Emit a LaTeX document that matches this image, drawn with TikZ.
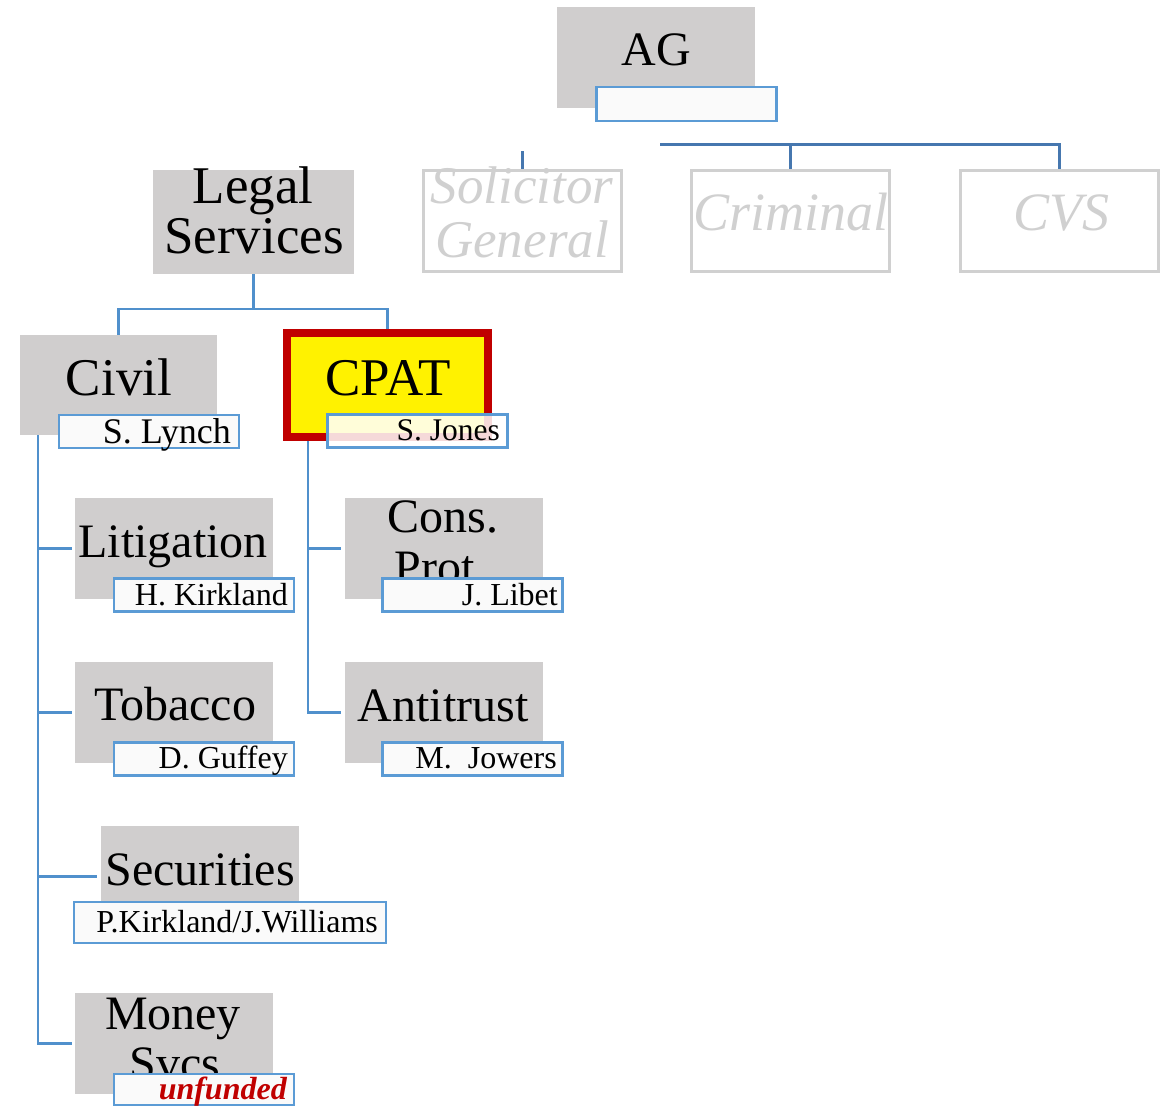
\documentclass[tikz,border=0pt]{standalone}
\usepackage{fontspec}
\setmainfont{Liberation Serif}
\definecolor{boxgray}{HTML}{D0CECE}
\definecolor{nameblue}{HTML}{5B9BD5}
\definecolor{topblue}{HTML}{4677AF}
\definecolor{connblue}{HTML}{5090CC}
\definecolor{ghost}{HTML}{D0D0D0}
\definecolor{namefill}{HTML}{FAFAFA}
\definecolor{cpatred}{HTML}{C00000}
\definecolor{fundred}{HTML}{C00000}
\newcommand\fsz[1]{\fontsize{#1}{#1}\selectfont}
\begin{document}
\begin{tikzpicture}[x=1pt,y=-1pt,
  graybox/.style={fill=boxgray, draw=none, inner sep=0pt, minimum width=198pt, minimum height=101pt},
  ghostbox/.style={draw=ghost, line width=3pt, fill=white, inner sep=0pt, minimum width=198pt, minimum height=101pt},
  namebox/.style={draw=nameblue, line width=2.5pt, fill=namefill, inner sep=0pt, minimum width=180pt, minimum height=33pt},
  txt/.style={inner sep=0pt, anchor=base},
  nametxt/.style={inner sep=0pt, anchor=base east, font=\fsz{32}},
  ghosttxt/.style={inner sep=0pt, anchor=base, text=ghost, font=\fsz{53}\itshape},
  conn/.style={draw=connblue, line width=2.5pt},
  topline/.style={draw=topblue, line width=3pt}]
\useasboundingbox (0,0) rectangle (1174,1107);

% ---- boxes
\node[graybox] (ag) at (656,57.5) {};
\node[graybox, minimum width=201pt, minimum height=104pt] (ls) at (253.5,222) {};
\node[ghostbox] (sol) at (522,221) {};
\node[ghostbox] (crim) at (790.5,221) {};
\node[ghostbox] (cvs) at (1059.5,221) {};
\node[graybox, minimum width=197pt, minimum height=100pt] (civ) at (118.5,385) {};
\node[fill=yellow, draw=cpatred, line width=8pt, inner sep=0pt, minimum width=201pt, minimum height=104pt] (cpat) at (387.5,385) {};
\node[graybox] (lit) at (174,548.5) {};
\node[graybox] (tob) at (174,712.5) {};
\node[graybox] (sec) at (199.5,876.5) {};
\node[graybox] (mon) at (174,1043.5) {};
\node[graybox] (cons) at (443.5,548.5) {};
\node[graybox] (anti) at (443.5,712.5) {};

% ---- connectors
\coordinate (agjoin) at (660,145);
\draw[topline] (agjoin) -| (crim.north);
\draw[topline] (agjoin) -| (cvs.north);
\draw[topline] (sol.north) -- ++(0,-18);
\draw[conn] (ls.south) -- ++(0,35) -| (civ.north);
\draw[conn] (ls.south) -- ++(0,35) -| (cpat.north);
\draw[conn] ([xshift=18pt]civ.south west) |- ([xshift=-3pt]lit.west);
\draw[conn] ([xshift=18pt]civ.south west) |- ([xshift=-3pt]tob.west);
\draw[conn] ([xshift=18pt]civ.south west) |- ([xshift=-3pt]sec.west);
\draw[conn] ([xshift=18pt]civ.south west) |- ([xshift=-3pt]mon.west);
\draw[conn] ([xshift=25pt]cpat.south west) |- ([xshift=-3pt]cons.west);
\draw[conn] ([xshift=25pt]cpat.south west) |- ([xshift=-3pt]anti.west);

% ---- titles
\node[txt, font=\fsz{48}] (tag) at (656,66) {AG};
\node[txt, font=\fsz{53}] (tls1) at (253,204) {Legal};
\node[txt, font=\fsz{53}] (tls2) at (254,253) {Services};
\node[ghosttxt] (tsol1) at (522,204) {Solicitor};
\node[ghosttxt] (tsol2) at (522,258) {General};
\node[ghosttxt, font=\fsz{54}\itshape] (tcrim) at (791,231) {Criminal};
\node[ghosttxt, font=\fsz{54}\itshape] (tcvs) at (1061,231) {CVS};
\node[txt, font=\fsz{53}] (tciv) at (119,395) {Civil};
\node[txt, font=\fsz{53}] (tcpat) at (388,395) {CPAT};
\node[txt, font=\fsz{48}] (tlit) at (173,557) {Litigation};
\node[txt, font=\fsz{48}] (ttob) at (175,720) {Tobacco};
\node[txt, font=\fsz{48}] (tcons1) at (443,532) {Cons.};
\node[txt, font=\fsz{48}] (tcons2) at (441,583) {Prot.};
\node[txt, font=\fsz{48}] (tanti) at (443,721) {Antitrust};
\node[txt, font=\fsz{48}] (tsec) at (200,885) {Securities};
\node[txt, font=\fsz{48}] (tmon1) at (173,1029) {Money};
\node[txt, font=\fsz{48}] (tmon2) at (175,1079) {Svcs};

% ---- name boxes
\node[namebox, minimum height=34pt] (nag) at (686.5,104) {};
\node[namebox] (nciv) at (149,431.5) {};
\node[namebox, fill=white, fill opacity=0.85] (ncpat) at (417.5,431) {};
\node[namebox] (nlit) at (204,595) {};
\node[namebox] (ntob) at (204,759) {};
\node[namebox, minimum width=312pt, minimum height=41pt] (nsec) at (230,922.5) {};
\node[namebox, minimum height=31pt] (nmon) at (204,1089.5) {};
\node[namebox] (ncons) at (472.5,595) {};
\node[namebox] (nanti) at (472.5,759) {};

\node[nametxt, font=\fsz{36}] (pciv) at (231,443) {S. Lynch};
\node[nametxt, font=\fsz{31.5}] (pcpat) at (500,440) {S. Jones};
\node[nametxt] (plit) at (288,605) {H. Kirkland};
\node[nametxt] (ptob) at (288,768) {D. Guffey};
\node[nametxt] (pcons) at (558,605) {J. Libet};
\node[nametxt] (panti) at (557,768) {M.~~Jowers};
\node[nametxt] (psec) at (378,932) {P.Kirkland/J.Williams};
\node[nametxt, font=\fsz{32}\bfseries\itshape, text=fundred] (pmon) at (287,1099) {unfunded};
\end{tikzpicture}
\end{document}
